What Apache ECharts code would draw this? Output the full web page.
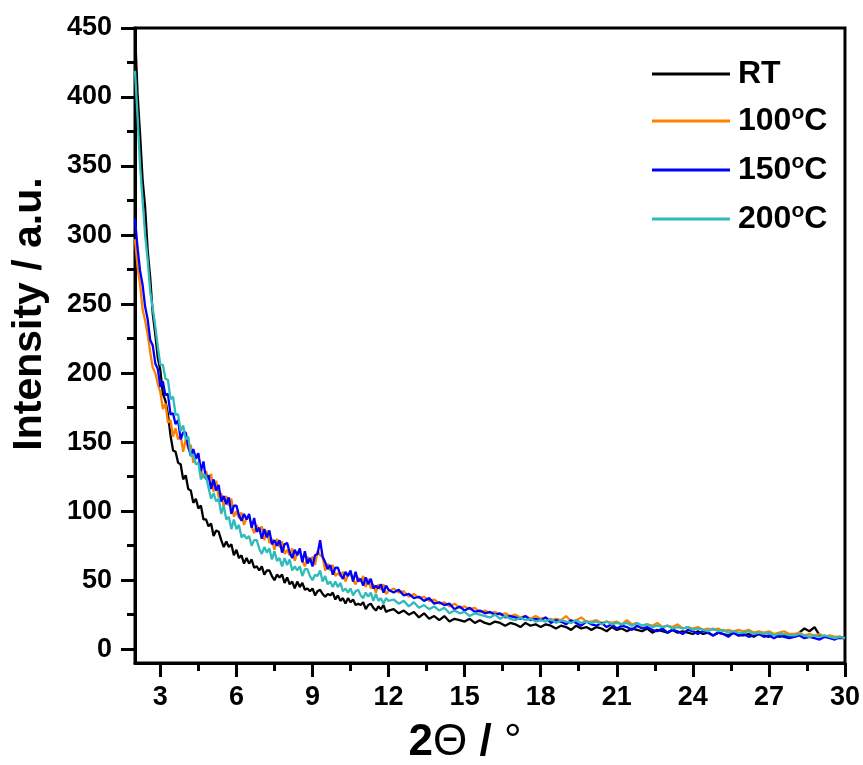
<!DOCTYPE html>
<html>
<head>
<meta charset="utf-8">
<script src="https://cdn.jsdelivr.net/npm/echarts@6/dist/echarts.min.js"></script>
<style>
html,body{margin:0;padding:0;background:#fff;}
#chart{width:863px;height:765px;}
</style>
</head>
<body>
<div id="chart"></div>
<script>
const twoTheta = [
2.0,2.1,2.2,2.3,2.4,2.5,2.6,2.7,2.8,2.9,
3.0,3.1,3.2,3.3,3.4,3.5,3.6,3.7,3.8,3.9,
4.0,4.1,4.2,4.3,4.4,4.5,4.6,4.7,4.8,4.9,
5.0,5.1,5.2,5.3,5.4,5.5,5.6,5.7,5.8,5.9,
6.0,6.1,6.2,6.3,6.4,6.5,6.6,6.7,6.8,6.9,
7.0,7.1,7.2,7.3,7.4,7.5,7.6,7.7,7.8,7.9,
8.0,8.1,8.2,8.3,8.4,8.5,8.6,8.7,8.8,8.9,
9.0,9.1,9.2,9.3,9.4,9.5,9.6,9.7,9.8,9.9,
10.0,10.1,10.2,10.3,10.4,10.5,10.6,10.7,10.8,10.9,
11.0,11.1,11.2,11.3,11.4,11.5,11.6,11.7,11.8,11.9,
12.0,
12.2,12.4,12.6,12.8,13.0,13.2,13.4,13.6,13.8,
14.0,14.2,14.4,14.6,14.8,15.0,15.2,15.4,15.6,15.8,
16.0,16.2,16.4,16.6,16.8,17.0,17.2,17.4,17.6,17.8,
18.0,18.2,18.4,18.6,18.8,19.0,19.2,19.4,19.6,19.8,
20.0,20.2,20.4,20.6,20.8,21.0,21.2,21.4,21.6,21.8,
22.0,22.2,22.4,22.6,22.8,23.0,23.2,23.4,23.6,23.8,
24.0,24.2,24.4,24.6,24.8,25.0,25.2,25.4,25.6,25.8,
26.0,26.2,26.4,26.6,26.8,27.0,27.2,27.4,27.6,27.8,
28.0,28.2,28.4,28.6,28.8,29.0,29.2,29.4,29.6,29.8,
30.0];

const seriesNames = ['RT', '100°C', '150°C', '200°C'];

const intensityRT = [
448,403,373,340,320,289,269,243,228,211,
202,185,180,170,155,144,143,135,134,123,
126,116,115,106,109,102,104,94,94,89,
91,82,86,85,79,74,78,74,76,68,
72,66,68,62,66,62,65,59,60,57,
60,54,57,57,53,50,54,52,54,48,
52,47,49,44,49,45,48,43,44,42,
44,39,42,43,40,38,40,39,41,36,
39,35,37,33,37,34,36,32,33,32,
34,29,32,33,30,28,31,29,32,27,
28,
29,26,28,25,27,23,26,22,24,
21,24,20,22,21,20,22,19,21,19,
18,20,19,17,19,18,16,19,17,18,
16,18,17,15,17,16,14,17,15,16,
14,16,15,13,16,14,15,13,15,14,
13,15,12,14,13,12,14,12,13,12,
11,13,11,12,10,12,11,10,12,10,
10,11,9,11,10,9,11,9,10,9,
9,12,15,13,16,10,9,9,8,8,
8];

const intensity100 = [
297,277,264,246,238,228,215,204,200,192,
186,174,178,164,166,154,160,152,155,143,
152,145,148,135,141,140,130,124,129,123,
127,114,122,110,113,103,111,104,109,96,
100,95,99,90,95,96,89,84,90,85,
89,79,86,77,80,72,80,74,78,69,
72,68,73,64,70,71,64,60,67,63,
67,61,71,68,67,57,62,57,61,53,
55,53,56,49,54,55,50,47,52,49,
53,45,51,44,47,41,47,43,47,40,
42,
44,41,42,38,40,37,38,35,36,
33,34,31,33,30,31,29,30,27,28,
26,27,25,26,24,25,23,24,22,24,
22,23,21,22,21,24,20,21,23,20,
20,21,19,20,19,20,18,21,18,19,
17,18,17,19,16,17,16,18,15,16,
15,16,14,15,14,15,13,14,13,14,
13,14,12,13,12,13,11,12,13,11,
11,12,10,11,10,11,9,10,9,9,
8];

const intensity150 = [
312,291,274,264,248,239,224,220,207,203,
190,194,184,185,170,171,163,166,152,157,
157,147,140,145,138,142,129,136,123,126,
116,123,115,119,107,111,105,110,98,104,
104,97,93,98,94,98,88,95,85,88,
80,87,81,86,76,79,75,79,70,76,
77,70,66,72,68,73,63,71,62,66,
60,68,69,79,67,63,58,61,54,59,
59,54,51,56,53,57,49,56,49,51,
46,52,47,51,44,46,44,47,41,46,
43,
41,43,39,40,37,38,35,37,33,
34,32,33,29,31,28,30,27,28,26,
27,25,26,23,24,23,22,24,21,22,
21,23,19,21,20,18,21,19,17,20,
18,17,19,16,18,15,17,16,14,17,
15,16,14,13,15,12,14,13,11,14,
13,11,13,12,10,12,11,9,12,10,
11,9,10,11,9,10,8,10,9,8,
9,10,8,9,8,7,9,8,7,9,
8];

const intensity200 = [
419,386,350,325,300,282,259,247,234,219,
206,206,196,195,181,183,170,170,158,162,
152,154,140,141,134,135,123,127,125,117,
109,113,107,109,98,104,94,96,87,94,
87,90,81,83,80,82,75,79,79,73,
69,74,70,73,65,71,64,66,60,66,
61,65,57,60,57,60,53,58,58,53,
50,54,53,57,49,53,47,49,45,49,
45,48,42,44,41,44,39,42,43,39,
37,41,38,41,35,40,35,37,33,37,
35,
36,33,35,31,34,30,32,29,31,
28,30,26,28,26,27,24,26,25,24,
23,25,22,24,22,21,23,21,22,20,
21,20,22,19,21,20,19,21,19,20,
19,20,18,20,18,19,18,19,17,19,
17,18,16,17,16,17,15,16,15,16,
14,15,14,13,15,13,14,12,13,12,
12,13,11,12,11,12,10,11,11,10,
10,11,10,9,10,9,10,9,8,9,
8];

const xMajorTicks = [3,6,9,12,15,18,21,24,27,30];
const xMinorTicks = [4.5,7.5,10.5,13.5,16.5,19.5,22.5,25.5,28.5];
const yMajorTicks = [0,50,100,150,200,250,300,350,400,450];
const yMinorTicks = [25,75,125,175,225,275,325,375,425];

const colors = ['#000000', '#FF8000', '#0000FF', '#30BBBB'];
const allSeries = [intensityRT, intensity100, intensity150, intensity200];

const FONT = '"Liberation Sans", Arial, Helvetica, sans-serif';

const chart = echarts.init(document.getElementById('chart'), null, {renderer: 'canvas'});

function pairs(ys) { return twoTheta.map((x, i) => [x, ys[i]]); }

const legendRich = {
  n: {fontSize: 32, fontWeight: 'bold', fontFamily: FONT, color: '#000', lineHeight: 36},
  sup: {fontSize: 21, fontWeight: 'bold', fontFamily: FONT, color: '#000', verticalAlign: 'top', lineHeight: 36, padding: [0, 0, 15, 0]}
};

const option = {
  animation: false,
  backgroundColor: '#ffffff',
  grid: {left: 135, right: 17, top: 28, bottom: 102, show: true, borderColor: '#000', borderWidth: 3, backgroundColor: 'transparent'},
  legend: {
    orient: 'vertical',
    left: 647,
    top: 53,
    icon: 'rect',
    itemWidth: 78,
    itemHeight: 3,
    itemGap: 13,
    data: seriesNames,
    formatter: function (name) {
      if (name.indexOf('°C') >= 0) {
        return '{n|' + name.replace('°C', '') + '}{sup|o}{n|C}';
      }
      return '{n|' + name + '}';
    },
    textStyle: {fontSize: 32, fontWeight: 'bold', fontFamily: FONT, color: '#000', padding: [0, 0, 0, 3], rich: legendRich}
  },
  xAxis: [
    {
      type: 'value', min: 2, max: 30, position: 'bottom',
      axisLine: {show: true, onZero: false, lineStyle: {color: '#000', width: 3}},
      axisTick: {show: true, length: 14, lineStyle: {color: '#000', width: 3}, customValues: xMajorTicks},
      axisLabel: {show: true, customValues: xMajorTicks, margin: 21, fontSize: 27, fontWeight: 'bold', fontFamily: FONT, color: '#000'},
      splitLine: {show: false}
    },
    {
      type: 'value', min: 2, max: 30, position: 'bottom',
      axisLine: {show: false, onZero: false},
      axisTick: {show: true, length: 8, lineStyle: {color: '#000', width: 3}, customValues: xMinorTicks},
      axisLabel: {show: false},
      splitLine: {show: false}
    }
  ],
  yAxis: [
    {
      type: 'value', min: -10, max: 450, position: 'left',
      axisLine: {show: true, onZero: false, lineStyle: {color: '#000', width: 3}},
      axisTick: {show: true, length: 14, lineStyle: {color: '#000', width: 3}, customValues: yMajorTicks},
      axisLabel: {show: true, customValues: yMajorTicks, margin: 23, fontSize: 27, fontWeight: 'bold', fontFamily: FONT, color: '#000'},
      splitLine: {show: false}
    },
    {
      type: 'value', min: -10, max: 450, position: 'left',
      axisLine: {show: false, onZero: false},
      axisTick: {show: true, length: 8, lineStyle: {color: '#000', width: 3}, customValues: yMinorTicks},
      axisLabel: {show: false},
      splitLine: {show: false}
    }
  ],
  graphic: [
    {
      type: 'text', x: 30, y: 314, rotation: Math.PI / 2,
      style: {text: 'Intensity / a.u.', font: 'bold 41px ' + FONT, fill: '#000', align: 'center', verticalAlign: 'middle'}
    },
    {
      type: 'text', x: 465, y: 743,
      style: {
        text: '{b|2}{t|Θ}{b| / }{t|°}',
        align: 'center', verticalAlign: 'middle',
        rich: {
          b: {fontSize: 44, fontWeight: 'bold', fontFamily: FONT, fill: '#000'},
          t: {fontSize: 44, fontWeight: 'normal', fontFamily: FONT, fill: '#000'}
        }
      }
    }
  ],
  series: allSeries.map((ys, i) => ({
    name: seriesNames[i],
    type: 'line',
    xAxisIndex: 0,
    yAxisIndex: 0,
    data: pairs(ys),
    showSymbol: false,
    symbol: 'none',
    lineStyle: {color: colors[i], width: 2.3},
    itemStyle: {color: colors[i]},
    z: 2 + i
  }))
};

chart.setOption(option);
</script>
</body>
</html>
